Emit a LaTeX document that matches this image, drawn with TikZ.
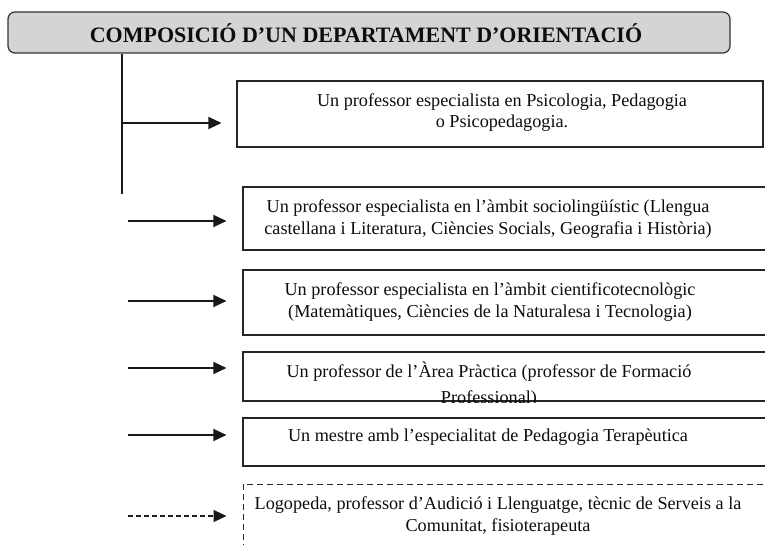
\documentclass[tikz,border=0pt]{standalone}
\usepackage{fontspec}
\setmainfont{Liberation Serif}
\usetikzlibrary{arrows.meta}
\begin{document}
\begin{tikzpicture}[x=1pt,y=-1pt,
  line width=1.1pt,
  titlebox/.style={draw=black!80,fill=black!17,rounded corners=7pt,line width=1.2pt,inner sep=0pt},
  itembox/.style={draw=black!85,line width=1.1pt,inner sep=0pt},
  dashbox/.style={draw=black!85,line width=1pt,dash pattern=on 6pt off 4pt,inner sep=0pt},
  itemtext/.style={font=\fontsize{18.2}{22.5}\selectfont,align=center,inner sep=0pt,text=black!95},
  arr/.style={-{Triangle[length=13pt,width=12pt]},draw=black!90,line width=1.1pt},
  darr/.style={arr,dash pattern=on 5pt off 3pt}]
\clip (0,0) rectangle (765,545);
\fill[white] (0,0) rectangle (765,545);
% title
\node[titlebox,minimum width=722pt,minimum height=41pt] (title) at (369,32.5) {};
\node[font=\fontsize{22}{24}\bfseries\selectfont,text=black!95,inner sep=0pt] (titletext) at (366,33) {COMPOSICIÓ D’UN DEPARTAMENT D’ORIENTACIÓ};
% boxes
\node[itembox,minimum width=526pt,minimum height=66pt] (b1) at (500,114) {};
\node[itembox,minimum width=540pt,minimum height=63pt] (b2) at (513,218.5) {};
\node[itembox,minimum width=540pt,minimum height=65pt] (b3) at (513,302.5) {};
\node[itembox,minimum width=540pt,minimum height=49pt] (b4) at (513,376.5) {};
\node[itembox,minimum width=540pt,minimum height=48pt] (b5) at (513,442) {};
\node[dashbox,minimum width=540pt,minimum height=80pt] (b6) at (513,524) {};
% texts
\node[itemtext,font=\fontsize{18.2}{21}\selectfont] (t1) at (502,113) {Un professor especialista en Psicologia, Pedagogia\\o Psicopedagogia.};
\node[itemtext] (t2) at (488,219) {Un professor especialista en l’àmbit sociolingüístic (Llengua\\castellana i Literatura, Ciències Socials, Geografia i Història)};
\node[itemtext] (t3) at (490,302) {Un professor especialista en l’àmbit cientificotecnològic\\(Matemàtiques, Ciències de la Naturalesa i Tecnologia)};
\begin{scope}
\clip (b4.north west) rectangle ([yshift=-0.6pt]b4.south east);
\node[itemtext,font=\fontsize{18.2}{26}\selectfont] (t4) at (489,385) {Un professor de l’Àrea Pràctica (professor de Formació\\Professional)};
\end{scope}
\node[itemtext] (t5) at (488,437) {Un mestre amb l’especialitat de Pedagogia Terapèutica};
\node[itemtext] (t6) at (498,516) {Logopeda, professor d’Audició i Llenguatge, tècnic de Serveis a la\\Comunitat, fisioterapeuta};
% connectors
\coordinate (vend) at (122,194);
\draw[draw=black!90] (title.south -| vend) -- (vend);
\draw[arr] (vend |- 0,123) -- ([xshift=-15pt]b1.west |- 0,123);
\coordinate (s2) at (128,221);
\coordinate (s3) at (128,301);
\coordinate (s4) at (128,368);
\coordinate (s5) at (128,435);
\coordinate (s6) at (128,516);
\draw[arr] (s2) -- ([xshift=-16pt]b2.west |- s2);
\draw[arr] (s3) -- ([xshift=-16pt]b3.west |- s3);
\draw[arr] (s4) -- ([xshift=-16pt]b4.west |- s4);
\draw[arr] (s5) -- ([xshift=-16pt]b5.west |- s5);
\draw[darr] (s6) -- ([xshift=-16pt]b6.west |- s6);
\end{tikzpicture}
\end{document}
